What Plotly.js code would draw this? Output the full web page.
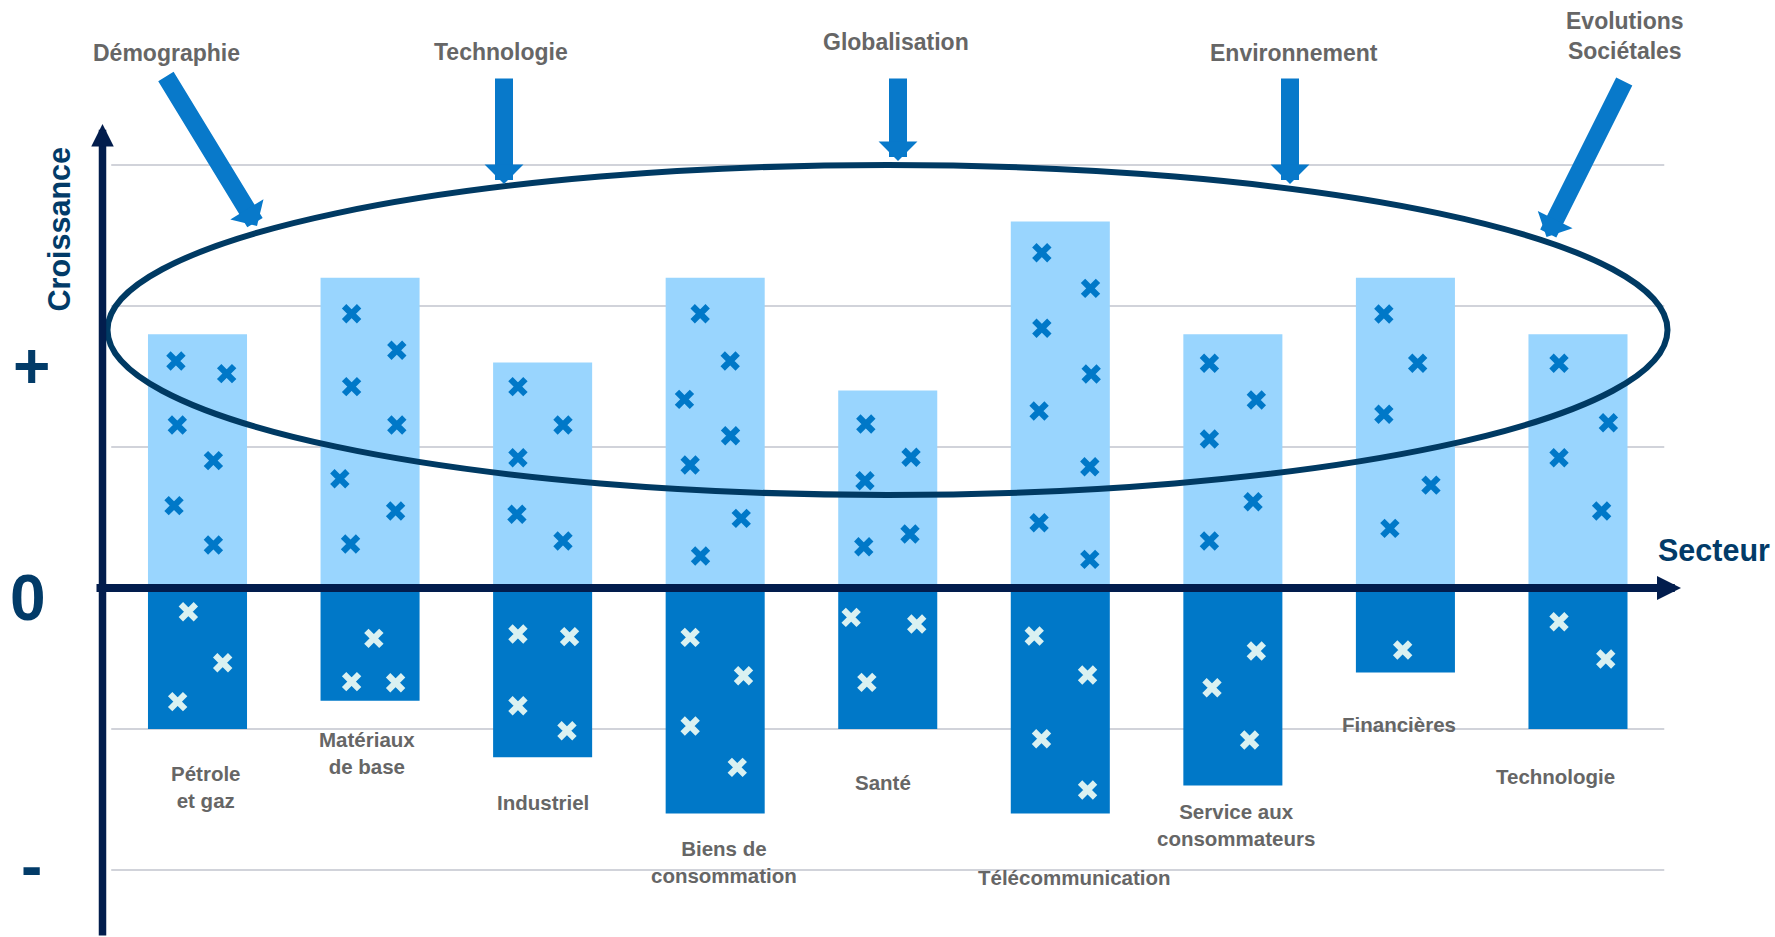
<!DOCTYPE html>
<html><head><meta charset="utf-8">
<script src="https://cdn.plot.ly/plotly-3.0.1.min.js"></script>
<style>html,body{margin:0;padding:0;background:#fff;overflow:hidden}#chart{width:1775px;height:937px}</style>
</head><body><div id="chart"></div>
<script>
// ---------- DATA ----------
const categories = ["Pétrole<br>et gaz", "Matériaux<br>de base", "Industriel", "Biens de<br>consommation", "Santé", "Télécommunication", "Service aux<br>consommateurs", "Financières", "Technologie"];
const positiveGrowth = [1.8, 2.2, 1.6, 2.2, 1.4, 2.6, 1.8, 2.2, 1.8];
const negativeGrowth = [-1.0, -0.8, -1.2, -1.6, -1.0, -1.6, -1.4, -0.6, -1.0];

// crosses inside the positive bars: offset from category centre and growth value
const posCrossDX = [
  [-0.125, 0.169, -0.117, 0.092, -0.136, 0.092],
  [-0.107, 0.155, -0.107, 0.155, -0.175, 0.148, -0.113],
  [-0.143, 0.118, -0.143, -0.149, 0.118],
  [-0.087, 0.087, -0.178, 0.089, -0.145, 0.151, -0.085],
  [-0.127, 0.135, -0.132, -0.139, 0.129],
  [-0.107, 0.175, -0.107, 0.179, -0.123, 0.171, -0.123, 0.171],
  [-0.136, 0.136, -0.136, 0.117, -0.136],
  [-0.125, 0.071, -0.125, 0.148, -0.09],
  [-0.11, 0.176, -0.11, 0.137]
];
const posCrossY = [
  [1.61, 1.52, 1.156, 0.903, 0.584, 0.305],
  [1.945, 1.686, 1.428, 1.156, 0.775, 0.546, 0.312],
  [1.428, 1.156, 0.924, 0.523, 0.333],
  [1.945, 1.61, 1.338, 1.08, 0.872, 0.494, 0.227],
  [1.163, 0.927, 0.761, 0.293, 0.383],
  [2.378, 2.125, 1.842, 1.518, 1.255, 0.86, 0.463, 0.203],
  [1.594, 1.333, 1.057, 0.612, 0.333],
  [1.943, 1.594, 1.232, 0.73, 0.423],
  [1.594, 1.172, 0.924, 0.546]
];
// crosses inside the negative bars
const negCrossDX = [
  [-0.053, 0.146, -0.115],
  [0.022, -0.107, 0.148],
  [-0.143, 0.156, -0.143, 0.141],
  [-0.145, 0.164, -0.145, 0.128],
  [-0.212, 0.168, -0.121],
  [-0.151, 0.158, -0.109, 0.158],
  [0.136, -0.121, 0.097],
  [-0.016],
  [-0.11, 0.161]
];
const negCrossY = [
  [-0.168, -0.53, -0.806],
  [-0.357, -0.664, -0.672],
  [-0.326, -0.345, -0.835, -1.012],
  [-0.35, -0.622, -0.979, -1.272],
  [-0.208, -0.255, -0.669],
  [-0.34, -0.617, -1.069, -1.433],
  [-0.447, -0.707, -1.078],
  [-0.44],
  [-0.239, -0.504]
];
const gridValues = [3, 2, 1, -1, -2];
const driverLabels = ["Démographie", "Technologie", "Globalisation", "Environnement", "Evolutions<br>Sociétales"];

// ---------- LAYOUT CONFIG (pixel placement) ----------
const W = 1775, H = 937;
const X0PX = 197.5, XSTEP = 172.56, Y0PX = 588, YSTEP = 141;
const px2x = p => (p - X0PX) / XSTEP;
const py2y = p => (Y0PX - p) / YSTEP;
const catLabelDX = [0.05, -0.02, 0.0, 0.05, -0.03, 0.08, 0.02, -0.04, -0.13];
const catLabelY = [-1.41, -1.167, -1.518, -1.943, -1.376, -2.05, -1.68, -0.965, -1.34];
const driverLabelPx = [[166.5, 53], [501, 52], [896, 42], [1293.5, 53], [1625, 36]];
const driverArrowPx = [[165, 75, 257, 226], [504, 77, 504, 184], [898, 77, 898, 161], [1290, 77, 1290, 184], [1625, 80, 1546.5, 237]];

const FONT = "Liberation Sans, Arial, sans-serif";
const LIGHT = "#99D5FE", DARK = "#0078C8", NAVY = "#023B68", AXIS = "#021D4D", ARROW = "#0879CA";

const idx = categories.map((c, i) => i);

function crosses(dx, ys) {
  const xs = [], yv = [];
  dx.forEach((row, i) => row.forEach((d, j) => { xs.push(i + d); yv.push(ys[i][j]); }));
  return {x: xs, y: yv};
}
const pc = crosses(posCrossDX, posCrossY);
const nc = crosses(negCrossDX, negCrossY);

const traces = [
  {type: "bar", x: idx, y: positiveGrowth, width: 0.574, marker: {color: LIGHT, line: {width: 0}}, hoverinfo: "skip"},
  {type: "bar", x: idx, y: negativeGrowth, width: 0.574, marker: {color: DARK, line: {width: 0}}, hoverinfo: "skip"},
  {type: "scatter", mode: "markers", x: pc.x, y: pc.y, hoverinfo: "skip",
   marker: {symbol: "x-thin", size: 15, color: DARK, line: {color: DARK, width: 6.2}}},
  {type: "scatter", mode: "markers", x: nc.x, y: nc.y, hoverinfo: "skip",
   marker: {symbol: "x-thin", size: 15, color: "#DAF1F1", line: {color: "#DAF1F1", width: 6.2}}}
];

const shapes = gridValues.map(v => ({
  type: "line", xref: "x", yref: "y", x0: -0.5, x1: categories.length - 0.5, y0: v, y1: v,
  line: {color: "#C2C5CE", width: 1.6}, layer: "below"
}));
shapes.push({type: "circle", xref: "x", yref: "y", x0: px2x(107.5), x1: px2x(1667.5), y0: py2y(495), y1: py2y(165),
  line: {color: "#003A63", width: 6}, fillcolor: "rgba(0,0,0,0)", layer: "above"});

const annotations = [];
categories.forEach((c, i) => annotations.push({
  xref: "x", yref: "y", x: i + catLabelDX[i], y: catLabelY[i], text: "<b>" + c + "</b>", showarrow: false,
  font: {family: FONT, size: 20.5, color: "#666666"}, xanchor: "center", yanchor: "middle", align: "center"
}));
driverLabels.forEach((t, i) => annotations.push({
  xref: "x", yref: "y", x: px2x(driverLabelPx[i][0]), y: py2y(driverLabelPx[i][1]), text: "<b>" + t + "</b>",
  showarrow: false, font: {family: FONT, size: 23, color: "#666666"}, xanchor: "center", yanchor: "middle", align: "center"
}));
driverArrowPx.forEach(a => annotations.push({
  xref: "x", yref: "y", x: px2x(a[2]), y: py2y(a[3]), ax: a[0] - a[2], ay: a[1] - a[3], text: "",
  showarrow: true, arrowhead: 1, arrowsize: 0.36, arrowwidth: 18, arrowcolor: ARROW
}));
// axes arrows
annotations.push({xref: "x", yref: "y", x: px2x(102.5), y: py2y(124), ax: 0, ay: 950 - 124, text: "",
  showarrow: true, arrowhead: 2, arrowsize: 0.6, arrowwidth: 7.5, arrowcolor: AXIS});
annotations.push({xref: "x", yref: "y", x: px2x(1681), y: 0, ax: 95 - 1681, ay: 0, text: "",
  showarrow: true, arrowhead: 2, arrowsize: 0.6, arrowwidth: 8, arrowcolor: AXIS});
// axis texts
annotations.push({xref: "x", yref: "y", x: px2x(58.5), y: py2y(230), text: "<b>Croissance</b>", textangle: -90,
  showarrow: false, font: {family: FONT, size: 30.5, color: NAVY}, xanchor: "center", yanchor: "middle"});
annotations.push({xref: "x", yref: "y", x: px2x(1714), y: py2y(550), text: "<b>Secteur</b>",
  showarrow: false, font: {family: FONT, size: 30.5, color: NAVY}, xanchor: "center", yanchor: "middle"});
[["+", 31, 366], ["0", 28, 598], ["-", 31, 866]].forEach(s => annotations.push({
  xref: "x", yref: "y", x: px2x(s[1]), y: py2y(s[2]), text: "<b>" + s[0] + "</b>", showarrow: false,
  font: {family: FONT, size: 64, color: NAVY}, xanchor: "center", yanchor: "middle"
}));

const layout = {
  width: W, height: H, margin: {l: 0, r: 0, t: 0, b: 0, pad: 0},
  paper_bgcolor: "#ffffff", plot_bgcolor: "#ffffff", showlegend: false, barmode: "overlay",
  xaxis: {visible: false, range: [px2x(0), px2x(W)], fixedrange: true},
  yaxis: {visible: false, range: [py2y(H), py2y(0)], fixedrange: true},
  shapes: shapes, annotations: annotations
};
Plotly.newPlot("chart", traces, layout, {staticPlot: true, displayModeBar: false});
</script></body></html>
